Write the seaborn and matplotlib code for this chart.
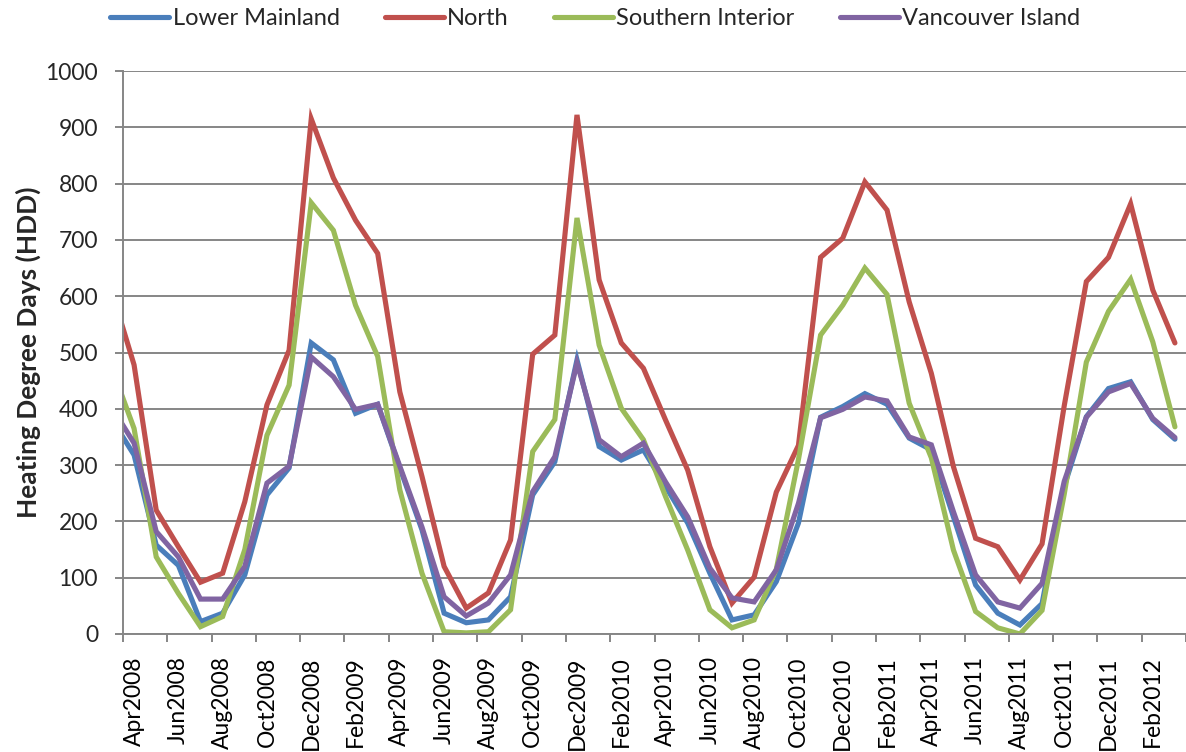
import matplotlib
matplotlib.use("Agg")
import matplotlib.pyplot as plt
import numpy as np
import pandas as pd
import seaborn as sns

# Monthly heating degree days, Mar 2008 - Mar 2012
months = pd.date_range("2008-03-01", periods=49, freq="MS").strftime("%b%Y").tolist()

lower_mainland = [381,
                  318, 158, 122, 22, 37, 105, 247, 295, 517, 487, 392, 408,
                  295, 185, 37, 20, 25, 66, 247, 306, 487, 333, 309, 327,
                  262, 197, 108, 25, 34, 93, 197, 385, 404, 427, 408, 348,
                  327, 208, 87, 37, 16, 54, 262, 386, 436, 448, 381, 346]
north = [608,
         478, 220, 155, 92, 108, 235, 407, 504, 915, 810, 735, 676,
         430, 280, 120, 46, 73, 167, 497, 531, 922, 629, 517, 472,
         380, 291, 155, 55, 101, 252, 335, 669, 703, 803, 753, 590,
         463, 297, 170, 155, 96, 160, 405, 626, 669, 764, 611, 517]
southern_interior = [472,
                     365, 137, 72, 13, 31, 150, 353, 442, 766, 717, 584, 493,
                     256, 108, 4, 2, 4, 43, 324, 381, 739, 513, 401, 345,
                     244, 149, 43, 11, 25, 115, 310, 531, 584, 650, 603, 410,
                     313, 149, 40, 11, 0, 42, 248, 483, 573, 630, 519, 368]
vancouver_island = [402,
                    339, 182, 137, 62, 62, 120, 268, 298, 492, 457, 399, 408,
                    298, 190, 66, 32, 55, 105, 253, 315, 481, 345, 315, 339,
                    270, 208, 117, 64, 57, 114, 232, 384, 399, 421, 414, 350,
                    336, 217, 105, 57, 46, 90, 271, 385, 430, 445, 383, 349]

regions = ["Lower Mainland", "North", "Southern Interior", "Vancouver Island"]
colors = ["#4A7EBB", "#C0504D", "#9BBB59", "#8064A2"]

frames = []
for name, vals in zip(regions, [lower_mainland, north, southern_interior, vancouver_island]):
    frames.append(pd.DataFrame({"idx": np.arange(len(months)), "month": months,
                                "region": name, "hdd": vals}))
df = pd.concat(frames, ignore_index=True)

sns.set_theme(style="white")
plt.rcParams["font.family"] = ["Lato", "DejaVu Sans"]

W, H = 1186, 752
fig = plt.figure(figsize=(W / 100, H / 100), dpi=100)
ax = fig.add_axes([123 / W, 118 / H, (W - 123) / W, 563 / H])

sns.lineplot(data=df, x="idx", y="hdd", hue="region", hue_order=regions,
             palette=colors, linewidth=3.7, ax=ax, legend=False, sort=False,
             solid_joinstyle="miter")

step = (1177.5 - 134) / 47.0
ax.set_xlim(0.5, 0.5 + (W - 123) / step)
ax.set_ylim(0, 1000)

grid_col = "#868686"
ax.set_yticks(np.arange(0, 1001, 100))
ax.yaxis.grid(True, color=grid_col, linewidth=1.4)
ax.xaxis.grid(False)
ax.set_axisbelow(True)

# label every second month, tick marks on category boundaries
label_idx = np.arange(1, len(months), 2)
ax.set_xticks(label_idx)
ax.set_xticklabels([months[i] for i in label_idx], rotation=90)
ax.set_xticks(np.arange(0.5, len(months), 2), minor=True)
ax.tick_params(axis="x", which="major", length=0, pad=16, labelsize=16.5, colors="black")
ax.tick_params(axis="x", which="minor", length=6, width=1.4, color=grid_col, bottom=True)
ax.tick_params(axis="y", which="major", length=6, width=1.4, color=grid_col,
               pad=12, labelsize=16.5, left=True)

for s in ["top", "right"]:
    ax.spines[s].set_visible(False)
for s in ["left", "bottom"]:
    ax.spines[s].set_color(grid_col)
    ax.spines[s].set_linewidth(1.4)

ax.set_xlabel("")
ax.set_ylabel("Heating Degree Days (HDD)", fontsize=19, fontweight="bold")
ax.yaxis.set_label_coords(-28 / (W - 123) - 67 / (W - 123), 0.5)
ax.yaxis.label.set_va("center")

handles = [plt.Line2D([], [], color=c, linewidth=3.7) for c in colors]
fig.legend(handles, regions, loc="upper left", bbox_to_anchor=(108 / W, 1 - 6 / H),
           ncol=4, frameon=False, fontsize=17, handlelength=2.5,
           handletextpad=0.15, columnspacing=1.9, borderaxespad=0.0,
           borderpad=0.1)

fig.savefig("out.png", dpi=100)
